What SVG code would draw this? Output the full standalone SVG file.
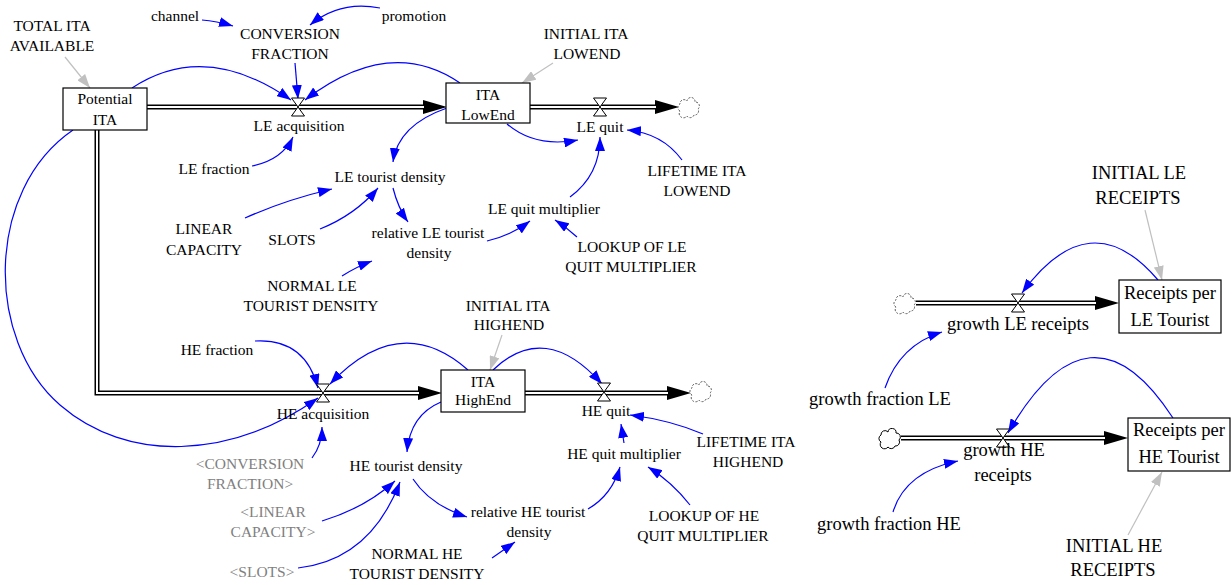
<svg xmlns="http://www.w3.org/2000/svg" width="1232" height="585" viewBox="0 0 1232 585">
<style>
.t{font-family:"Liberation Serif","Times New Roman",serif;font-size:15.5px;fill:#000;text-anchor:middle}
.g{fill:#808080}
.r{font-size:18.5px}
.lnk{fill:none;stroke:#0000ff;stroke-width:1.2;marker-end:url(#ab)}
.glnk{fill:none;stroke:#c0c0c0;stroke-width:1.2;marker-end:url(#ag)}
.po{fill:none;stroke:#000;stroke-width:5;marker-end:url(#ph)}
.pi{fill:none;stroke:#fff;stroke-width:2}
.stock{fill:#fff;stroke:#000;stroke-width:1.2}
.valve{fill:#fff;stroke:#000;stroke-width:1}
.cloud{fill:#fff;stroke:#555;stroke-width:1;stroke-dasharray:2 1.5}
.cloud.s{stroke:#000;stroke-dasharray:none}
</style>
<defs>
<marker id="ab" markerUnits="userSpaceOnUse" viewBox="0 0 14 10" markerWidth="14" markerHeight="10" refX="14" refY="5" orient="auto"><path d="M0,0 L14,5 L0,10 z" fill="#0000ff"/></marker>
<marker id="ag" markerUnits="userSpaceOnUse" viewBox="0 0 14 10" markerWidth="14" markerHeight="10" refX="14" refY="5" orient="auto"><path d="M0,0 L14,5 L0,10 z" fill="#c0c0c0"/></marker>
<marker id="ph" markerUnits="userSpaceOnUse" viewBox="0 0 24 14" markerWidth="24" markerHeight="14" refX="0" refY="7" orient="auto"><path d="M0,0 L24,7 L0,14 z" fill="#000"/></marker>
<path id="valve" d="M-6.5,-9 h13 L-6.5,9 h13 Z"/>
<path id="cloud" d="M-9,3 a4,4 0 0 1 0,-7 a4,4 0 0 1 7,-3 a4,4 0 0 1 8,1 a4,4 0 0 1 3,7 a4,4 0 0 1 -4,6 a4,4 0 0 1 -7,1 a4,4 0 0 1 -7,-5 z"/>
</defs>
<rect width="1232" height="585" fill="#fff"/>

<g id="connectors">
 <g id="pipes">
  <path class="po" d="M147,107 L423,107"/><path class="pi" d="M147,107 L424,107"/>
  <path class="po" d="M530,107 L655,107"/><path class="pi" d="M530,107 L656,107"/>
  <path class="po" d="M97,130 L97,393 L418,393"/><path class="pi" d="M97,130 L97,393 L419,393"/>
  <path class="po" d="M525,393 L667,393"/><path class="pi" d="M525,393 L668,393"/>
  <path class="po" d="M916,303 L1095,303"/><path class="pi" d="M916,303 L1096,303"/>
  <path class="po" d="M901,438 L1104,438"/><path class="pi" d="M901,438 L1105,438"/>
 </g>
 <g id="links">
  <path class="lnk" d="M202,20 Q216,21 233,26"/>
  <path class="lnk" d="M380,8 Q340,0 310,25"/>
  <path class="lnk" d="M295,63 L298,99"/>
  <path class="lnk" d="M132,88 Q205,40 291,100"/>
  <path class="lnk" d="M460,83 Q390,35 305,100"/>
  <path class="lnk" d="M252,166 Q282,160 293,137"/>
  <path class="lnk" d="M447,108 Q398,125 393,162"/>
  <path class="lnk" d="M507,124 Q535,148 578,140"/>
  <path class="lnk" d="M682,160 Q662,133 627,130"/>
  <path class="glnk" d="M553,63 L522,83"/>
  <path class="glnk" d="M65,57 L90,88"/>
  <path class="lnk" d="M570,197 Q600,175 600,137"/>
  <path class="lnk" d="M245,218 Q285,200 332,189"/>
  <path class="lnk" d="M320,229 Q355,215 378,188"/>
  <path class="lnk" d="M393,188 Q398,208 408,222"/>
  <path class="lnk" d="M487,241 Q510,236 530,221"/>
  <path class="lnk" d="M342,276 Q356,267 372,261"/>
  <path class="lnk" d="M577,237 Q566,227 555,220"/>
  <path class="lnk" d="M255,341 Q305,338 318,388"/>
  <path class="lnk" d="M468,370 Q400,310 330,384"/>
  <path class="lnk" d="M73,130 C-15,190 -15,340 60,405 C127,463 230,460 318,398"/>
  <path class="lnk" d="M312,458 Q322,445 322,427"/>
  <path class="glnk" d="M502,335 L490,370"/>
  <path class="lnk" d="M493,370 Q545,320 602,384"/>
  <path class="lnk" d="M441,402 Q410,415 407,452"/>
  <path class="lnk" d="M322,521 Q365,508 395,481"/>
  <path class="lnk" d="M298,568 Q370,560 400,482"/>
  <path class="lnk" d="M413,479 Q430,505 467,517"/>
  <path class="lnk" d="M492,558 L515,542"/>
  <path class="lnk" d="M588,509 Q612,495 620,467"/>
  <path class="lnk" d="M624,443 L621,424"/>
  <path class="lnk" d="M690,505 Q672,482 648,467"/>
  <path class="lnk" d="M703,434 Q670,420 630,415"/>
  <path class="lnk" d="M1158,280 Q1090,200 1022,293"/>
  <path class="glnk" d="M1145,210 L1162,280"/>
  <path class="lnk" d="M885,388 Q900,345 942,332"/>
  <path class="lnk" d="M1173,418 Q1090,290 1008,433"/>
  <path class="glnk" d="M1128,535 L1162,472"/>
  <path class="lnk" d="M893,512 Q905,472 958,461"/>
 </g>
</g>

<g id="clouds">
 <use href="#cloud" class="cloud" x="689" y="108"/>
 <use href="#cloud" class="cloud" x="701" y="392"/>
 <use href="#cloud" class="cloud" x="905" y="304"/>
 <use href="#cloud" class="cloud s" x="890" y="439"/>
</g>

<g id="Potential_ITA"><rect class="stock" x="63" y="88" width="84" height="42"/><text class="t" x="105" y="104">Potential</text><text class="t" x="105" y="125">ITA</text></g>
<g id="ITA_LowEnd"><rect class="stock" x="446" y="83" width="84" height="40"/><text class="t" x="488" y="100">ITA</text><text class="t" x="488" y="120">LowEnd</text></g>
<g id="ITA_HighEnd"><rect class="stock" x="441" y="370" width="84" height="42"/><text class="t" x="483" y="387">ITA</text><text class="t" x="483" y="405">HighEnd</text></g>
<g id="Receipts_LE"><rect class="stock" x="1119" y="280" width="102" height="53"/><text class="t r" x="1170" y="299">Receipts per</text><text class="t r" x="1170" y="326">LE Tourist</text></g>
<g id="Receipts_HE"><rect class="stock" x="1128" y="418" width="102" height="53"/><text class="t r" x="1179" y="436">Receipts per</text><text class="t r" x="1179" y="463">HE Tourist</text></g>

<g id="LE_acquisition"><use href="#valve" class="valve" x="298" y="107"/><text class="t" x="299" y="131">LE acquisition</text></g>
<g id="LE_quit"><use href="#valve" class="valve" x="600" y="107"/><text class="t" x="600" y="132">LE quit</text></g>
<g id="HE_acquisition"><use href="#valve" class="valve" x="323" y="393"/><text class="t" x="323" y="419">HE acquisition</text></g>
<g id="HE_quit"><use href="#valve" class="valve" x="604" y="392"/><text class="t" x="606" y="416">HE quit</text></g>
<g id="growth_LE_receipts"><use href="#valve" class="valve" x="1018" y="303"/><text class="t r" x="1018" y="330">growth LE receipts</text></g>
<g id="growth_HE_receipts"><use href="#valve" class="valve" x="1003" y="438"/><text class="t r" x="1004" y="456">growth HE</text><text class="t r" x="1003" y="481">receipts</text></g>

<g id="TOTAL_ITA_AVAILABLE"><text class="t" x="52" y="31">TOTAL ITA</text><text class="t" x="52" y="51">AVAILABLE</text></g>
<g id="channel"><text class="t" x="175" y="21">channel</text></g>
<g id="promotion"><text class="t" x="414" y="21">promotion</text></g>
<g id="CONVERSION_FRACTION"><text class="t" x="290" y="39">CONVERSION</text><text class="t" x="290" y="59">FRACTION</text></g>
<g id="INITIAL_ITA_LOWEND"><text class="t" x="586" y="39">INITIAL ITA</text><text class="t" x="587" y="59">LOWEND</text></g>
<g id="LE_fraction"><text class="t" x="214" y="174">LE fraction</text></g>
<g id="LIFETIME_ITA_LOWEND"><text class="t" x="697" y="176">LIFETIME ITA</text><text class="t" x="697" y="196">LOWEND</text></g>
<g id="LE_tourist_density"><text class="t" x="390" y="182">LE tourist density</text></g>
<g id="LINEAR_CAPACITY"><text class="t" x="204" y="234">LINEAR</text><text class="t" x="204" y="255">CAPACITY</text></g>
<g id="SLOTS"><text class="t" x="292" y="245">SLOTS</text></g>
<g id="relative_LE_tourist_density"><text class="t" x="428" y="238">relative LE tourist</text><text class="t" x="429" y="258">density</text></g>
<g id="LE_quit_multiplier"><text class="t" x="544" y="214">LE quit multiplier</text></g>
<g id="LOOKUP_OF_LE_QUIT_MULTIPLIER"><text class="t" x="632" y="252">LOOKUP OF LE</text><text class="t" x="631" y="272">QUIT MULTIPLIER</text></g>
<g id="NORMAL_LE_TOURIST_DENSITY"><text class="t" x="312" y="291">NORMAL LE</text><text class="t" x="311" y="311">TOURIST DENSITY</text></g>
<g id="INITIAL_ITA_HIGHEND"><text class="t" x="508" y="311">INITIAL ITA</text><text class="t" x="509" y="330">HIGHEND</text></g>
<g id="HE_fraction"><text class="t" x="217" y="355">HE fraction</text></g>
<g id="CONVERSION_FRACTION_shadow"><text class="t g" x="250" y="469">&lt;CONVERSION</text><text class="t g" x="250" y="489">FRACTION&gt;</text></g>
<g id="HE_tourist_density"><text class="t" x="406" y="471">HE tourist density</text></g>
<g id="HE_quit_multiplier"><text class="t" x="624" y="459">HE quit multiplier</text></g>
<g id="LIFETIME_ITA_HIGHEND"><text class="t" x="746" y="447">LIFETIME ITA</text><text class="t" x="748" y="467">HIGHEND</text></g>
<g id="LINEAR_CAPACITY_shadow"><text class="t g" x="273" y="517">&lt;LINEAR</text><text class="t g" x="273" y="537">CAPACITY&gt;</text></g>
<g id="relative_HE_tourist_density"><text class="t" x="528" y="517">relative HE tourist</text><text class="t" x="529" y="537">density</text></g>
<g id="LOOKUP_OF_HE_QUIT_MULTIPLIER"><text class="t" x="704" y="521">LOOKUP OF HE</text><text class="t" x="703" y="541">QUIT MULTIPLIER</text></g>
<g id="SLOTS_shadow"><text class="t g" x="262" y="577">&lt;SLOTS&gt;</text></g>
<g id="NORMAL_HE_TOURIST_DENSITY"><text class="t" x="417" y="559">NORMAL HE</text><text class="t" x="417" y="579">TOURIST DENSITY</text></g>

<g id="INITIAL_LE_RECEIPTS"><text class="t r" x="1139" y="179">INITIAL LE</text><text class="t r" x="1138" y="204">RECEIPTS</text></g>
<g id="growth_fraction_LE"><text class="t r" x="880" y="405">growth fraction LE</text></g>
<g id="growth_fraction_HE"><text class="t r" x="889" y="530">growth fraction HE</text></g>
<g id="INITIAL_HE_RECEIPTS"><text class="t r" x="1114" y="552">INITIAL HE</text><text class="t r" x="1113" y="576">RECEIPTS</text></g>
</svg>
